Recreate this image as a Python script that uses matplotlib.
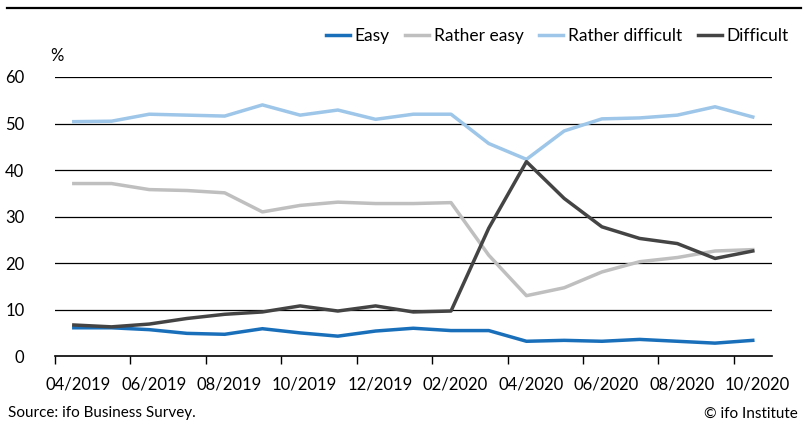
import matplotlib.pyplot as plt
import numpy as np

plt.rcParams['font.family'] = ['Lato', 'DejaVu Sans']

# monthly survey, 04/2019 - 10/2020
months = ['04/2019', '05/2019', '06/2019', '07/2019', '08/2019', '09/2019', '10/2019',
          '11/2019', '12/2019', '01/2020', '02/2020', '03/2020', '04/2020', '05/2020',
          '06/2020', '07/2020', '08/2020', '09/2020', '10/2020']
easy = [6.1, 6.1, 5.7, 4.9, 4.7, 5.9, 5.0, 4.3, 5.4, 6.0, 5.5, 5.5, 3.2, 3.4, 3.2, 3.6, 3.2, 2.8, 3.4]
rather_easy = [37.1, 37.1, 35.8, 35.6, 35.1, 31.0, 32.4, 33.1, 32.8, 32.8, 33.0, 21.7, 13.0, 14.7,
               18.1, 20.3, 21.2, 22.6, 22.9]
rather_difficult = [50.4, 50.5, 52.0, 51.8, 51.6, 54.0, 51.8, 52.9, 50.9, 52.0, 52.0, 45.7, 42.3,
                    48.4, 51.0, 51.2, 51.8, 53.6, 51.4]
difficult = [6.7, 6.3, 6.9, 8.1, 9.0, 9.5, 10.8, 9.7, 10.8, 9.5, 9.7, 27.5, 41.8, 33.9, 27.8,
             25.3, 24.2, 21.0, 22.6]

series = [('Easy', easy, '#1a6fba'),
          ('Rather easy', rather_easy, '#bfbfbf'),
          ('Rather difficult', rather_difficult, '#9dc6e8'),
          ('Difficult', difficult, '#444444')]

fig = plt.figure(figsize=(8.08, 4.23), dpi=100)
ax = fig.add_axes([0.068, 0.158, 0.887, 0.660])

x = np.arange(len(months))
for name, vals, col in series:
    ax.plot(x, vals, color=col, lw=2.5, label=name, solid_joinstyle='round')

ax.set_xlim(-0.5, len(months) - 0.5)
ax.set_ylim(0, 60)
ax.set_yticks(range(0, 61, 10))
for v in range(10, 61, 10):
    ax.axhline(v, color='black', lw=0.9, zorder=0)

# ticks between months, labels every second month
ax.set_xticks(np.arange(-0.5, len(months) - 1, 2))
ax.set_xticklabels([])
ax.set_xticks(x[::2] + 0.12, minor=True)
ax.set_xticklabels(months[::2], minor=True)
ax.tick_params(axis='x', which='major', length=6, width=1, direction='out', color='black')
ax.tick_params(axis='x', which='minor', length=0, pad=15, labelsize=12)
ax.tick_params(axis='y', length=0, pad=22, labelsize=12)
for lbl in ax.get_yticklabels():
    lbl.set_horizontalalignment('right')

for s in ['top', 'right', 'left']:
    ax.spines[s].set_visible(False)
ax.spines['bottom'].set_linewidth(1.2)

ax.text(-0.006, 1.045, '%', transform=ax.transAxes, fontsize=12, ha='left', va='bottom')

fig.legend(loc='upper right', bbox_to_anchor=(0.995, 0.97), ncol=4, frameon=False,
           fontsize=12.5, handlelength=1.4, handletextpad=0.25, columnspacing=0.9)

# line under the (cropped) heading
fig.add_artist(plt.Line2D([0.009, 0.991], [0.982, 0.982], color='black', lw=1.6))

fig.text(0.01, 0.006, 'Source: ifo Business Survey.', fontsize=11, ha='left', va='bottom')
fig.text(0.987, 0.006, '© ifo Institute', fontsize=11, ha='right', va='bottom')

fig.savefig('out.png', dpi=100)
